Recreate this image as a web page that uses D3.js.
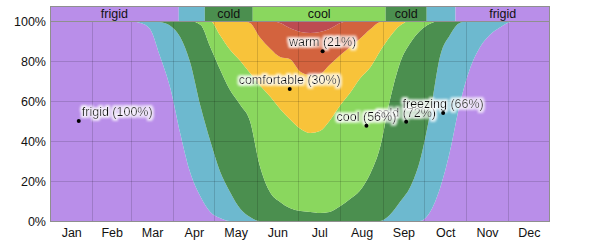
<!DOCTYPE html>
<html><head><meta charset="utf-8">
<script src="https://cdn.jsdelivr.net/npm/d3@7"></script>
<style>
html,body{margin:0;padding:0;background:#fff;}
svg{display:block;font-family:"Liberation Sans",Arial,sans-serif;}
</style></head>
<body><svg id="chart" width="600" height="244"></svg>
<script>
// ---- data ----
const categories = ["frigid","freezing","cold","cool","comfortable","warm","hot"];
const colors = ["#b98ee9","#6db9cf","#4b8f4f","#8ad75e","#f8c33a","#d3633e","#bd4b51"];
const days = [0,36,55,66,73,80,88,95,102,110,117,124,131,139,146,153,161,168,175,183,190,197,204,212,219,226,234,241,248,256,263,270,277,285,292,299,307,314,321,329,336,343,365];
const frigid = [100,100,100,99,96,83,66,44,25,12,4.5,1.5,0,0,0,0,0,0,0,0,0,0,0,0,0,0,0,0,0,0,0,0,4,17,35,58,77,87,93,97,99.5,100,100];
const freezing = [0,0,0,1,4,16.5,31.5,48,55,45,35.5,23.5,15,6,2,0,0,0,0,0,0,0,0,0,0,0,0,0,3,10,17,30,48,66,58,41,23,13,7,3,0.5,0,0];
const cold = [0,0,0,0,0,0.5,2.5,8,20,41,47,51,51,52,48,28,14,9.5,6.5,5,4.5,4,4.5,7.5,11,15,24,37,57,70,72,65,46.5,17,7,1,0,0,0,0,0,0,0];
const cool = [0,0,0,0,0,0,0,0,0,2,13,17,20,22,24,40,48,46.5,44.5,41,39.5,41,45.5,50.5,53,56,53,48,32,18,11,5,1.5,0,0,0,0,0,0,0,0,0,0];
const comfortable = [0,0,0,0,0,0,0,0,0,0,0,7,14,20,25,24,24,26,30,28.5,29,28.5,28,25,23,20,19,14.5,8,2,0,0,0,0,0,0,0,0,0,0,0,0,0];
const warm = [0,0,0,0,0,0,0,0,0,0,0,0,0,0,1,8,14,17,15.5,20,21,21,18,16,13,9,4,0.5,0,0,0,0,0,0,0,0,0,0,0,0,0,0,0];
const hot = [0,0,0,0,0,0,0,0,0,0,0,0,0,0,0,0,0,1,3.5,5.5,6,5.5,4,1,0,0,0,0,0,0,0,0,0,0,0,0,0,0,0,0,0,0,0];

const monthNames = ["Jan","Feb","Mar","Apr","May","Jun","Jul","Aug","Sep","Oct","Nov","Dec"];
const monthStarts = [0,31,59,90,120,151,181,212,243,273,304,334,365];
const yTicks = [0,20,40,60,80,100];

const bandCats = ["frigid","freezing","cold","cool","cold","freezing","frigid"];
const bandStarts = [0,94,113,148,245,275,296];

const labelCats = ["frigid","cold","cool","freezing","comfortable","warm"];
const labelDays = [21,260,231,287,175,199];
const labelPcts = [100,72,56,66,30,21];

// ---- chart ----
const svg = d3.select("#chart");
const L = 50, R = 550, T = 21, B = 221, bandTop = 6;
const x = d3.scaleLinear().domain([0,365]).range([L,R]);
const y = d3.scaleLinear().domain([0,100]).range([B,T]);
const color = d3.scaleOrdinal().domain(categories).range(colors);

const series = {frigid,freezing,cold,cool,comfortable,warm,hot};
const rows = days.map((d,i)=>{const r={day:d}; categories.forEach(c=>r[c]=series[c][i]); return r;});
const stacked = d3.stack().keys(categories)(rows);

const defs = svg.append("defs");
defs.append("clipPath").attr("id","plotclip").append("rect").attr("x",L).attr("y",T).attr("width",R-L).attr("height",B-T);
const f = defs.append("filter").attr("id","halo").attr("x","-10%").attr("y","-40%").attr("width","120%").attr("height","180%");
f.append("feMorphology").attr("in","SourceAlpha").attr("operator","dilate").attr("radius",2).attr("result","d");
f.append("feGaussianBlur").attr("in","d").attr("stdDeviation",0.8).attr("result","b");
f.append("feFlood").attr("flood-color","#ffffff").attr("flood-opacity",0.88);
f.append("feComposite").attr("in2","b").attr("operator","in").attr("result","h");
const m = f.append("feMerge"); m.append("feMergeNode").attr("in","h"); m.append("feMergeNode").attr("in","SourceGraphic");

const area = d3.area().x(d=>x(d.data.day)).y0(d=>y(d[0])).y1(d=>y(d[1])).curve(d3.curveMonotoneX);
svg.append("g").attr("clip-path","url(#plotclip)")
  .selectAll("path").data(stacked).join("path")
  .attr("fill",s=>color(s.key)).attr("d",area);

// grid
const grid = svg.append("g").attr("stroke","rgba(0,0,0,0.14)").attr("stroke-width",1);
monthStarts.slice(1,12).forEach(d=>{
  const xx = Math.round(x(d))+0.5;
  grid.append("line").attr("x1",xx).attr("x2",xx).attr("y1",T).attr("y2",B);
});
[20,40,60,80].forEach(v=>{
  const yy = Math.round(y(v))+0.5;
  grid.append("line").attr("x1",L).attr("x2",R).attr("y1",yy).attr("y2",yy);
});

// band
const bandEnds = bandStarts.slice(1).concat([365]);
const band = svg.append("g");
bandCats.forEach((c,i)=>{
  const x0 = x(bandStarts[i]), x1 = x(bandEnds[i]);
  band.append("rect").attr("x",x0).attr("y",bandTop).attr("width",x1-x0).attr("height",T-bandTop).attr("fill",color(c));
  const t = band.append("text").attr("x",(x0+x1)/2).attr("y",18).attr("text-anchor","middle")
    .attr("font-size",12.5).attr("fill","#111").text(c);
  if (t.node().getComputedTextLength() > (x1-x0) - 4) t.remove();
});

// frame
svg.append("rect").attr("x",L+0.5).attr("y",bandTop+0.5).attr("width",R-L-1).attr("height",B-bandTop)
  .attr("fill","none").attr("stroke","#8f8f8f");
svg.append("line").attr("x1",L).attr("x2",R).attr("y1",T+0.5).attr("y2",T+0.5).attr("stroke","#8f8f8f");

// y axis
const yAxis = d3.axisLeft(y).tickValues(yTicks).tickFormat(d=>d+"%").tickSize(0).tickPadding(4);
const ya = svg.append("g").attr("transform",`translate(${L},0)`).call(yAxis);
ya.select(".domain").remove();
ya.selectAll("text").attr("font-size",12.5).attr("fill","#111").attr("font-family","Liberation Sans, Arial, sans-serif");

// x axis (month labels centred mid-month)
const mids = monthNames.map((n,i)=>(monthStarts[i]+monthStarts[i+1])/2);
const xAxis = d3.axisBottom(x).tickValues(mids).tickFormat((d,i)=>monthNames[i]).tickSize(0).tickPadding(7);
const xa = svg.append("g").attr("transform",`translate(0,${B})`).call(xAxis);
xa.select(".domain").remove();
xa.selectAll("text").attr("font-size",12.5).attr("fill","#111").attr("font-family","Liberation Sans, Arial, sans-serif");

// labels
function interp(layer, day){
  const i = d3.bisector(d=>d.data.day).right(layer, day);
  const a = layer[Math.max(0,i-1)], b = layer[Math.min(layer.length-1,i)];
  const t = b.data.day===a.data.day ? 0 : (day-a.data.day)/(b.data.day-a.data.day);
  return [a[0]+(b[0]-a[0])*t, a[1]+(b[1]-a[1])*t];
}
const lg = svg.append("g");
labelCats.forEach((c,i)=>{
  const layer = stacked[categories.indexOf(c)];
  const v = interp(layer, labelDays[i]);
  const px = x(labelDays[i]), py = y((v[0]+v[1])/2);
  const t = lg.append("text").attr("font-size",12.5).attr("fill","#111").attr("filter","url(#halo)")
    .text(`${c} (${labelPcts[i]}%)`);
  const w = t.node().getComputedTextLength();
  let tx = px - w/2;
  if (tx < L + 2) tx = px + 3;
  t.attr("x",tx).attr("y",py-5);
  lg.append("circle").attr("cx",px).attr("cy",py).attr("r",2).attr("fill","#000");
});
</script></body></html>
